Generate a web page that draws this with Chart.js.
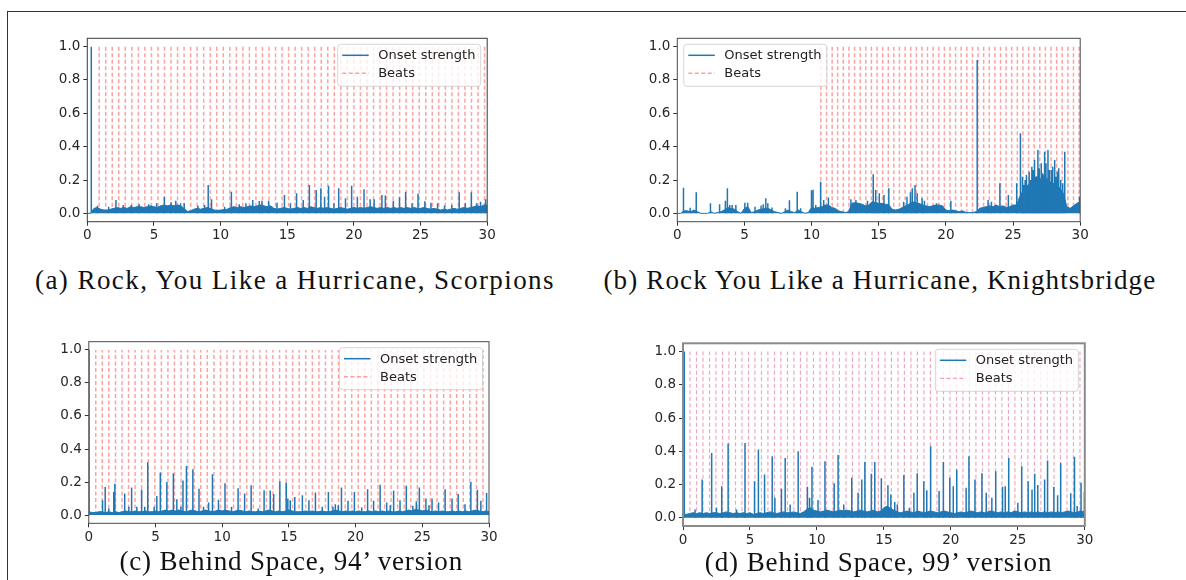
<!DOCTYPE html>
<html><head><meta charset="utf-8">
<script src="https://cdn.jsdelivr.net/npm/chart.js@4.4.0/dist/chart.umd.min.js"></script>
<style>
html,body{margin:0;padding:0;background:#fff;}
body{width:1186px;height:580px;position:relative;overflow:hidden;}
.frame{position:absolute;left:7px;top:11px;width:1200px;height:600px;border-left:1.5px solid #333;border-top:1.5px solid #333;}
canvas{position:absolute;}
.cap{position:absolute;font-family:'Liberation Serif','Times New Roman',serif;font-size:27px;color:#111;white-space:nowrap;line-height:1;}
</style></head><body>
<div class="frame"></div>
<canvas id="ca"></canvas>
<canvas id="cb"></canvas>
<canvas id="cc"></canvas>
<canvas id="cd"></canvas>
<div class="cap" id="capA"></div>
<div class="cap" id="capB"></div>
<div class="cap" id="capC"></div>
<div class="cap" id="capD"></div>
<script>
// ---------- DATA ----------
const xTicks = [0, 5, 10, 15, 20, 25, 30];
const yTicks = [0, 0.2, 0.4, 0.6, 0.8, 1.0];
const seriesNames = ['Onset strength', 'Beats'];
const captions = [
  '(a) Rock, You Like a Hurricane, Scorpions',
  '(b) Rock You Like a Hurricane, Knightsbridge',
  '(c) Behind Space, 94\u2019 version',
  '(d) Behind Space, 99\u2019 version'
];
const floorStep = 0.25; // seconds between floor samples

// (a) Scorpions
const floorA = [
  0,0,0.03,0.035,0.025,0.02,0.02,0.025,
  0.03,0.035,0.03,0.035,0.03,0.04,0.035,0.04,
  0.04,0.035,0.04,0.045,0.04,0.035,0.045,0.05,
  0.045,0.05,0.045,0.05,0.045,0.03,0.012,0.015,
  0.025,0.03,0.025,0.03,0.035,0.03,0.02,0.018,
  0.02,0.022,0.025,0.035,0.04,0.035,0.04,0.035,
  0.04,0.045,0.04,0.045,0.05,0.045,0.04,0.045,
  0.03,0.025,0.03,0.035,0.03,0.025,0.03,0.035,
  0.03,0.035,0.03,0.04,0.035,0.03,0.035,0.03,
  0.035,0.03,0.025,0.03,0.035,0.03,0.025,0.03,
  0.035,0.03,0.035,0.03,0.035,0.04,0.035,0.03,
  0.035,0.03,0.035,0.03,0.035,0.03,0.035,0.03,
  0.035,0.03,0.035,0.03,0.03,0.035,0.03,0.025,
  0.03,0.025,0.02,0.025,0.02,0.025,0.03,0.025,
  0.03,0.035,0.03,0.035,0.04,0.045,0.04,0.05,
  0.05
];
const peaksA = [
  [0.3,1.0],[0.76,0.045],[1.6,0.04],[2.15,0.08],[2.7,0.05],[3.3,0.05],[3.9,0.055],[4.6,0.055],[5.2,0.06],[5.78,0.10],
  [6.28,0.066],[6.64,0.075],[7.0,0.06],[7.27,0.06],[8.3,0.045],[8.8,0.05],[9.07,0.17],[9.32,0.085],[10.3,0.04],[10.81,0.13],
  [11.4,0.055],[11.9,0.06],[12.41,0.08],[12.9,0.074],[13.1,0.076],[13.6,0.075],[14.23,0.064],[14.79,0.11],[15.24,0.06],[15.7,0.12],
  [16.2,0.08],[16.66,0.17],[17.17,0.14],[17.52,0.15],[17.8,0.10],[18.1,0.165],[18.5,0.06],[18.86,0.15],[19.37,0.09],[19.83,0.165],
  [20.26,0.10],[20.76,0.145],[21.22,0.085],[21.52,0.085],[22.1,0.11],[22.36,0.107],[22.96,0.076],[23.42,0.097],[23.88,0.128],[24.36,0.06],
  [24.81,0.118],[25.32,0.072],[25.78,0.064],[26.28,0.06],[26.8,0.047],[27.34,0.05],[27.9,0.126],[28.36,0.06],[28.81,0.126],[29.2,0.06],
  [29.5,0.07],[29.88,0.085]
];
const beatsA = [
  0.89,1.38,1.87,2.36,2.85,3.34,3.83,4.32,4.81,5.30,5.79,6.28,6.77,7.26,7.75,8.24,8.73,9.22,9.71,10.20,
  10.69,11.18,11.67,12.16,12.65,13.14,13.63,14.12,14.61,15.10,15.59,16.08,16.57,17.06,17.55,18.04,18.53,19.02,19.51,20.00,
  20.49,20.98,21.47,21.96,22.45,22.94,23.43,23.92,24.41,24.90,25.39,25.88,26.37,26.86,27.35,27.84,28.33,28.82,29.31,29.80
];

// (b) Knightsbridge
const floorB = [
  0,0,0.015,0.015,0.01,0.02,0.01,0,
  0,0,0.01,0,0.005,0.01,0.02,0.035,
  0.03,0.025,0.01,0,0.03,0.04,0.005,0.01,
  0.02,0.025,0.03,0.03,0.02,0.01,0.005,0,
  0.01,0.02,0.01,0.005,0.02,0.01,0,0.005,
  0.035,0.03,0.035,0.04,0.05,0.05,0.035,0.03,
  0.015,0.01,0.005,0.01,0.06,0.065,0.06,0.055,
  0.045,0.05,0.07,0.065,0.06,0.06,0.055,0.05,
  0.025,0.02,0.025,0.035,0.045,0.055,0.07,0.065,
  0.06,0.05,0.045,0.04,0.045,0.05,0.05,0.045,
  0.02,0.015,0.02,0.015,0.01,0.015,0.005,0.005,
  0.005,0.01,0.03,0.035,0.04,0.045,0.04,0.05,
  0.04,0.045,0.035,0.04,0.05,0.05,0.1,0.14,
  0.16,0.18,0.2,0.22,0.2,0.23,0.21,0.19,
  0.18,0.17,0.15,0.12,0.04,0.03,0.045,0.06,
  0.07
];
const peaksB = [
  [0.46,0.153],[0.96,0.033],[1.41,0.126],[2.47,0.06],[3.15,0.054],[3.58,0.076],[3.73,0.15],[3.9,0.05],[4.08,0.05],[4.36,0.05],
  [5.03,0.064],[5.24,0.064],[5.79,0.04],[6.24,0.047],[6.4,0.054],[6.59,0.09],[6.74,0.06],[7.05,0.035],[8.05,0.03],[8.35,0.078],
  [8.93,0.13],[9.18,0.03],[9.99,0.138],[10.11,0.142],[10.31,0.05],[10.67,0.19],[10.9,0.08],[11.25,0.095],[12.93,0.085],[13.3,0.08],
  [14.16,0.075],[14.59,0.235],[14.77,0.14],[15.04,0.12],[15.39,0.11],[15.75,0.15],[16.85,0.07],[17.1,0.10],[17.36,0.126],[17.5,0.15],
  [17.7,0.17],[17.86,0.12],[18.23,0.09],[18.4,0.075],[19.3,0.06],[20.37,0.075],[22.33,0.92],[23.14,0.08],[23.39,0.07],[24.02,0.18],
  [24.65,0.11],[25.27,0.18],[25.55,0.48],[25.7,0.22],[25.8,0.17],[25.9,0.2],[26.0,0.23],[26.2,0.25],[26.3,0.2],[26.4,0.28],
  [26.5,0.26],[26.6,0.32],[26.7,0.22],[26.85,0.38],[26.95,0.27],[27.1,0.3],[27.2,0.24],[27.35,0.37],[27.45,0.3],[27.6,0.38],
  [27.7,0.26],[27.85,0.26],[27.95,0.28],[28.1,0.32],[28.2,0.22],[28.3,0.25],[28.4,0.27],[28.55,0.2],[28.7,0.18],[28.85,0.37],
  [29.95,0.1]
];
const beatsB = [
  10.69,11.11,11.53,11.94,12.36,12.78,13.20,13.62,14.03,14.45,14.87,15.29,15.71,16.12,16.54,16.96,17.38,17.80,18.21,18.63,
  19.05,19.47,19.89,20.30,20.72,21.14,21.56,21.98,22.39,22.81,23.23,23.65,24.07,24.48,24.90,25.32,25.74,26.16,26.57,26.99,
  27.41,27.83,28.25,28.66,29.08,29.50,29.92
];

// (c) Behind Space, 94'
const floorC = [
  0.02,0.015,0.015,0.02,0.02,0.015,0.02,0.015,
  0.02,0.015,0.02,0.025,0.02,0.02,0.025,0.02,
  0.02,0.025,0.02,0.02,0.025,0.02,0.025,0.03,
  0.025,0.03,0.025,0.03,0.025,0.02,0.025,0.03,
  0.025,0.02,0.025,0.03,0.025,0.02,0.025,0.03,
  0.025,0.03,0.025,0.02,0.025,0.03,0.025,0.02,
  0.025,0.02,0.02,0.025,0.02,0.025,0.03,0.025,
  0.02,0.025,0.02,0.025,0.03,0.025,0.02,0.02,
  0.02,0.025,0.02,0.025,0.02,0.02,0.025,0.02,
  0.02,0.025,0.03,0.025,0.02,0.025,0.02,0.025,
  0.02,0.025,0.02,0.02,0.025,0.02,0.025,0.02,
  0.025,0.02,0.025,0.02,0.02,0.025,0.02,0.025,
  0.03,0.025,0.035,0.03,0.025,0.03,0.025,0.02,
  0.025,0.02,0.025,0.02,0.02,0.025,0.02,0.025,
  0.02,0.025,0.02,0.025,0.03,0.025,0.02,0.025,
  0.02
];
const peaksC = [
  [0.02,1.0],[1.03,0.09],[1.23,0.17],[1.5,0.04],[1.87,0.14],[1.95,0.19],[2.69,0.13],[3.0,0.05],[3.21,0.167],[3.6,0.05],
  [3.96,0.155],[4.19,0.05],[4.42,0.32],[4.9,0.05],[5.1,0.116],[5.36,0.257],[5.85,0.2],[6.34,0.253],[6.6,0.096],[6.9,0.05],
  [7.06,0.21],[7.32,0.297],[7.8,0.277],[8.26,0.16],[8.6,0.05],[8.98,0.076],[9.27,0.247],[9.72,0.092],[10.21,0.193],[10.7,0.05],
  [11.19,0.163],[11.68,0.13],[12.17,0.18],[12.7,0.04],[13.14,0.15],[13.6,0.149],[13.86,0.127],[14.32,0.205],[14.8,0.197],[14.92,0.1],
  [15.1,0.09],[15.44,0.11],[16.01,0.12],[16.5,0.09],[16.99,0.137],[17.5,0.05],[17.96,0.14],[18.3,0.05],[18.48,0.066],[18.7,0.06],
  [18.94,0.167],[19.43,0.086],[19.91,0.14],[20.46,0.046],[20.9,0.157],[21.35,0.086],[21.84,0.183],[22.33,0.076],[22.6,0.06],[22.85,0.147],
  [23.33,0.09],[23.8,0.177],[24.29,0.056],[24.55,0.082],[24.78,0.167],[25.27,0.1],[25.5,0.06],[25.73,0.1],[26.22,0.076],[26.71,0.157],
  [27.23,0.1],[27.69,0.127],[28.2,0.066],[28.64,0.2],[29.13,0.153],[29.39,0.086],[29.82,0.133]
];
const beatsC = [
  0.52,1.01,1.50,2.00,2.49,2.98,3.47,3.96,4.46,4.95,5.44,5.93,6.42,6.92,7.41,7.90,8.39,8.88,9.38,9.87,
  10.36,10.85,11.34,11.84,12.33,12.82,13.31,13.80,14.30,14.79,15.28,15.77,16.26,16.76,17.25,17.74,18.23,18.72,19.22,19.71,
  20.20,20.69,21.18,21.68,22.17,22.66,23.15,23.64,24.14,24.63,25.12,25.61,26.10,26.60,27.09,27.58,28.07,28.56,29.06,29.55
];

// (d) Behind Space, 99'
const floorD = [
  0.02,0.02,0.025,0.03,0.025,0.03,0.025,0.03,
  0.025,0.03,0.03,0.025,0.03,0.035,0.03,0.025,
  0.03,0.025,0.03,0.025,0.03,0.02,0.025,0.03,
  0.025,0.03,0.035,0.03,0.025,0.03,0.035,0.03,
  0.03,0.035,0.03,0.025,0.035,0.05,0.06,0.045,
  0.04,0.035,0.04,0.045,0.04,0.035,0.04,0.045,
  0.04,0.045,0.04,0.035,0.04,0.045,0.04,0.035,
  0.04,0.045,0.035,0.04,0.06,0.07,0.055,0.045,
  0.035,0.03,0.035,0.04,0.035,0.03,0.04,0.035,
  0.03,0.035,0.04,0.035,0.03,0.035,0.04,0.035,
  0.03,0.025,0.03,0.035,0.03,0.035,0.04,0.035,
  0.03,0.035,0.03,0.035,0.04,0.035,0.03,0.035,
  0.03,0.035,0.03,0.04,0.035,0.03,0.035,0.03,
  0.035,0.03,0.035,0.03,0.035,0.03,0.035,0.03,
  0.035,0.03,0.035,0.04,0.035,0.03,0.035,0.04,
  0.035
];
const peaksD = [
  [0.1,1.0],[0.9,0.05],[1.43,0.23],[2.14,0.39],[2.5,0.06],[2.89,0.19],[3.37,0.446],[4.0,0.05],[4.63,0.45],[5.34,0.22],
  [5.63,0.41],[6.09,0.26],[6.66,0.37],[6.86,0.12],[7.35,0.175],[7.63,0.36],[8.0,0.08],[8.6,0.40],[9.29,0.187],[9.45,0.12],
  [9.63,0.307],[10.08,0.106],[10.6,0.34],[11.29,0.207],[11.58,0.378],[12.0,0.08],[12.6,0.24],[13.07,0.15],[13.35,0.23],[13.58,0.335],
  [14.06,0.265],[14.32,0.335],[14.81,0.237],[15.3,0.195],[15.52,0.14],[15.81,0.094],[16.0,0.08],[16.49,0.257],[16.9,0.06],[17.24,0.15],
  [17.49,0.267],[17.98,0.22],[18.2,0.165],[18.49,0.43],[19.12,0.16],[19.44,0.335],[19.92,0.24],[20.18,0.19],[20.44,0.29],[21.14,0.18],
  [21.35,0.37],[21.8,0.23],[22.32,0.267],[22.64,0.15],[23.06,0.12],[23.35,0.28],[23.86,0.187],[24.06,0.19],[24.32,0.36],[25.0,0.09],
  [25.29,0.31],[25.77,0.22],[26.06,0.17],[26.26,0.265],[26.49,0.197],[27.0,0.23],[27.22,0.345],[27.69,0.187],[27.97,0.135],[28.2,0.33],
  [28.95,0.147],[29.23,0.367],[29.43,0.07],[29.72,0.21],[29.97,0.155]
];
const beatsD = [
  0.52,1.01,1.49,1.98,2.46,2.95,3.43,3.92,4.40,4.89,5.37,5.86,6.34,6.83,7.31,7.80,8.28,8.77,9.25,9.74,
  10.23,10.71,11.20,11.68,12.17,12.65,13.14,13.62,14.11,14.59,15.08,15.56,16.05,16.53,17.02,17.50,17.99,18.47,18.96,19.45,
  19.93,20.42,20.90,21.39,21.87,22.36,22.84,23.33,23.81,24.30,24.78,25.27,25.75,26.24,26.72,27.21,27.70,28.18,28.67,29.15,29.64
];

// ---------- LAYOUT / STYLE ----------
const panels = [
  {id:'ca', cap:'capA', floor:floorA, peaks:peaksA, beats:beatsA, area:{L:87.3,T:38.3,R:487.2,B:221.7}, legendSide:'right', capBox:[35,555,280],
   spine:'#3a3a3a', spineW:1, beatColor:'rgba(255,30,30,0.42)', beatW:1.5},
  {id:'cb', cap:'capB', floor:floorB, peaks:peaksB, beats:beatsB, area:{L:677.3,T:38.3,R:1080.2,B:221.7}, legendSide:'left', capBox:[603.4,1156.4,280],
   spine:'#4a4a4a', spineW:1, beatColor:'rgba(255,30,30,0.42)', beatW:1.5},
  {id:'cc', cap:'capC', floor:floorC, peaks:peaksC, beats:beatsC, area:{L:88.8,T:341.7,R:489.0,B:523.3}, legendSide:'right', capBox:[119.4,463,561.7],
   spine:'#4a4a4a', spineW:1, beatColor:'rgba(255,30,30,0.42)', beatW:1.5},
  {id:'cd', cap:'capD', floor:floorD, peaks:peaksD, beats:beatsD, area:{L:683.0,T:343.3,R:1084.8,B:526.0}, legendSide:'right', capBox:[704.8,1052.3,562.7],
   spine:'#8a8a8a', spineW:2, beatColor:'rgba(225,60,105,0.45)', beatW:1.2}
];
const BLUE = '#1f77b4';
const TICK_FONT = {family:'DejaVu Sans', size:13.5};

const decorPlugin = {
  id:'decor',
  afterDatasetsDraw(chart, args, opts){
    const ctx = chart.ctx, a = chart.chartArea;
    ctx.save();
    ctx.strokeStyle = opts.spine; ctx.lineWidth = opts.spineW;
    ctx.strokeRect(a.left, a.top, a.right-a.left, a.bottom-a.top);
    const w = 143, h = 42;
    const x = opts.side === 'right' ? a.right - 6.5 - w : a.left + 6.5;
    const y = a.top + 6;
    ctx.beginPath();
    if (ctx.roundRect) ctx.roundRect(x, y, w, h, 3); else ctx.rect(x, y, w, h);
    ctx.fillStyle = 'rgba(255,255,255,0.8)'; ctx.fill();
    ctx.strokeStyle = 'rgba(204,204,204,0.8)'; ctx.lineWidth = 1; ctx.stroke();
    const r1 = y + 11, r2 = y + 29;
    ctx.lineWidth = 1.5; ctx.strokeStyle = BLUE; ctx.setLineDash([]);
    ctx.beginPath(); ctx.moveTo(x+4.5, r1); ctx.lineTo(x+31, r1); ctx.stroke();
    ctx.lineWidth = opts.beatW; ctx.strokeStyle = opts.beatColor; ctx.setLineDash([4,2.5]);
    ctx.beginPath(); ctx.moveTo(x+4.5, r2); ctx.lineTo(x+31, r2); ctx.stroke();
    ctx.setLineDash([]);
    ctx.fillStyle = '#222'; ctx.font = '13px "DejaVu Sans"'; ctx.textBaseline = 'middle'; ctx.textAlign = 'left';
    ctx.fillText(seriesNames[0], x+40.5, r1+0.5);
    ctx.fillText(seriesNames[1], x+40.5, r2+0.5);
    ctx.restore();
  }
};

panels.forEach((p, k) => {
  const A = p.area;
  const cl = Math.floor(A.L - 62), ct = Math.floor(A.T - 14);
  const cw = Math.ceil(A.R + 18) - cl, ch = Math.ceil(A.B + 30) - ct;
  const cv = document.getElementById(p.id);
  cv.width = cw; cv.height = ch;
  cv.style.left = cl + 'px'; cv.style.top = ct + 'px';
  cv.style.width = cw + 'px'; cv.style.height = ch + 'px';
  const yw = A.L - cl, xh = ct + ch - A.B, pt = A.T - ct, pr = cl + cw - A.R;

  const floorData = p.floor.map((v, i) => ({x: i * floorStep, y: v}));
  const peakData = [];
  p.peaks.forEach(([t, v]) => { peakData.push({x:t, y:0}, {x:t, y:v}, {x:t, y:null}); });
  const beatData = [];
  p.beats.forEach(t => { beatData.push({x:t, y:0}, {x:t, y:1}, {x:t, y:null}); });

  const gridOpts = {display:true, drawOnChartArea:false, drawTicks:true, tickLength:4, tickWidth:1, color:'#333', lineWidth:1};
  new Chart(cv, {
    type:'line',
    data:{datasets:[
      {label:seriesNames[0], data:peakData, borderColor:BLUE, borderWidth:1.5, pointRadius:0, spanGaps:false, fill:false},
      {label:seriesNames[0], data:floorData, borderColor:BLUE, backgroundColor:BLUE, borderWidth:1, pointRadius:0, fill:'origin'},
      {label:seriesNames[1], data:beatData, borderColor:p.beatColor, borderWidth:p.beatW, borderDash:[4,2.5], pointRadius:0, spanGaps:false, fill:false}
    ]},
    options:{
      responsive:false, animation:false, devicePixelRatio:1, events:[],
      layout:{padding:{top:pt, right:pr, left:0, bottom:0}},
      plugins:{legend:{display:false}, tooltip:{enabled:false},
        decor:{spine:p.spine, spineW:p.spineW, side:p.legendSide, beatColor:p.beatColor, beatW:p.beatW}},
      elements:{point:{radius:0}, line:{tension:0}},
      scales:{
        x:{type:'linear', min:0, max:30,
          afterBuildTicks:s => { s.ticks = xTicks.map(v => ({value:v})); },
          afterFit:s => { s.height = xh; },
          ticks:{font:TICK_FONT, color:'#262626', padding:2, maxRotation:0, autoSkip:false, callback:v => String(v)},
          grid:gridOpts, border:{display:false}},
        y:{type:'linear', min:-0.05, max:1.05,
          afterBuildTicks:s => { s.ticks = yTicks.map(v => ({value:v})); },
          afterFit:s => { s.width = yw; },
          ticks:{font:TICK_FONT, color:'#262626', padding:3, autoSkip:false, callback:v => Number(v).toFixed(1)},
          grid:gridOpts, border:{display:false}}
      }
    },
    plugins:[decorPlugin]
  });

  // caption: stretch letter spacing to the measured span of the reference caption
  const cap = document.getElementById(p.cap);
  cap.textContent = captions[k];
  const natural = cap.getBoundingClientRect().width;
  const target = p.capBox[1] - p.capBox[0];
  const n = captions[k].length;
  const ls = (target - natural) / n;
  cap.style.letterSpacing = ls + 'px';
  const h = cap.getBoundingClientRect().height;
  cap.style.left = p.capBox[0] + 'px';
  cap.style.top = (p.capBox[2] - h / 2) + 'px';
});
</script>
</body></html>
